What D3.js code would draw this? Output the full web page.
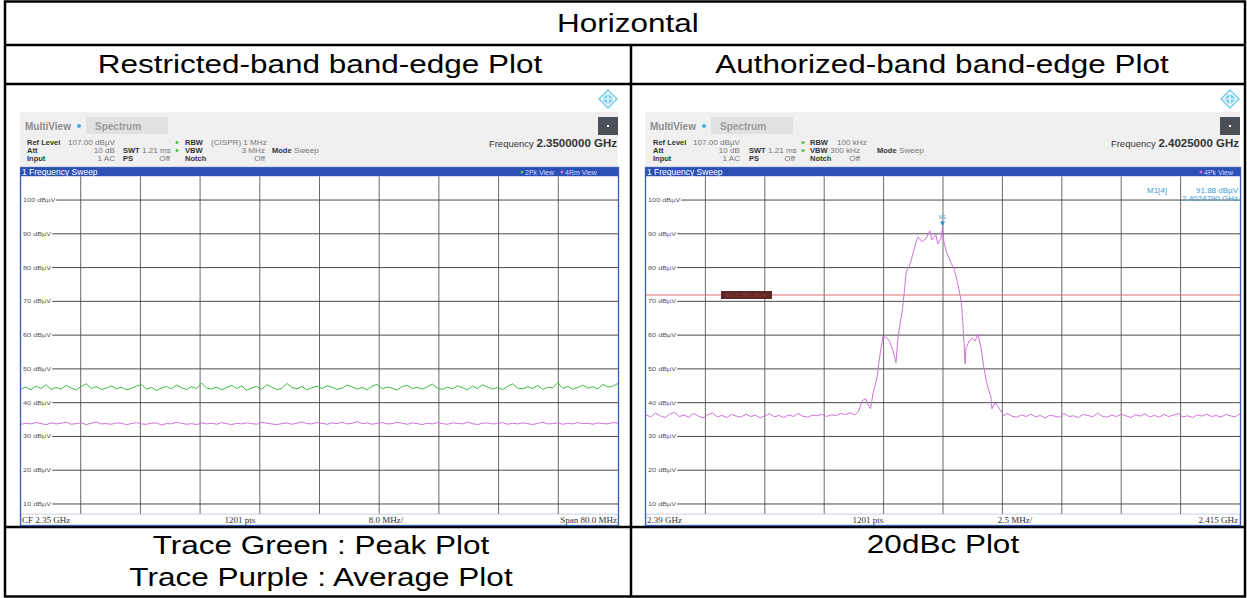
<!DOCTYPE html>
<html>
<head>
<meta charset="utf-8">
<script src="https://cdn.jsdelivr.net/npm/d3@7"></script>
<style>
  html, body { margin: 0; padding: 0; background: #fff; }
  svg { display: block; }
</style>
</head>
<body>
<svg id="chart" width="1247" height="598"></svg>
<script>
// ---------------- data ----------------
// level grid (dBµV) shown on both spectrum displays
const levelTicks = [100, 90, 80, 70, 60, 50, 40, 30, 20, 10];
const levelDomain = [7, 107];               // display bottom / reference level

// Restricted band: CF 2.35 GHz, span 80 MHz
const restrictedSpanMHz = [2310, 2390];
const restrictedPeak = [
  44.1,44.6,43.8,44.9,44.2,45.3,43.9,44.5,44.0,45.1,44.4,43.7,44.8,45.6,44.2,44.7,43.9,44.3,45.0,44.1,
  44.6,43.8,44.2,44.9,45.4,44.0,44.5,43.6,44.3,44.8,44.1,45.2,44.4,43.9,44.7,44.2,45.8,44.3,44.0,44.6,
  43.8,44.5,45.1,44.2,44.9,43.7,44.4,44.8,44.0,45.3,44.6,43.9,44.2,45.7,44.5,44.1,44.8,43.8,44.4,44.9,
  44.2,45.0,44.6,43.9,44.3,45.2,44.7,44.0,44.5,43.8,44.9,45.4,44.1,44.6,44.3,43.7,44.8,45.1,44.2,44.5,
  44.0,44.7,45.5,44.3,43.9,44.6,44.1,45.0,44.4,43.8,44.9,44.2,45.3,44.6,44.0,44.5,43.9,44.8,45.6,44.3,
  44.1,44.7,44.2,45.1,43.9,44.6,44.4,45.9,44.2,44.8,44.0,44.5,45.2,44.3,44.7,44.1,45.4,44.6,44.9,45.7
];
const restrictedAvg = [
  33.6,33.9,33.7,34.1,33.8,33.5,34.0,33.7,33.9,34.2,33.6,33.8,34.0,33.5,33.9,34.3,33.7,33.8,33.6,34.0,
  33.9,33.5,33.8,34.1,33.7,33.6,33.9,34.0,33.4,33.8,33.7,34.2,33.9,33.6,33.8,33.5,34.0,33.7,33.9,33.6,
  34.1,33.8,33.5,33.9,33.7,34.0,33.8,33.6,34.2,33.9,33.7,33.5,33.8,34.0,33.6,33.9,34.3,33.8,33.7,34.1,
  33.9,33.6,34.0,33.8,34.2,33.7,33.9,34.4,33.8,34.0,33.6,33.9,34.1,33.7,33.8,34.2,33.9,33.6,34.0,33.8,
  33.5,33.9,33.7,34.1,33.8,33.6,34.0,33.9,33.7,34.2,33.8,33.5,33.9,34.0,33.7,33.8,34.1,33.6,33.9,33.7,
  34.0,33.8,33.5,33.9,34.2,33.7,33.8,34.0,33.6,33.9,33.7,34.1,33.8,33.9,33.6,34.0,33.8,33.7,34.1,33.9
];

// Authorized band: 2.39 GHz .. 2.415 GHz, peak trace
const authorizedSpanMHz = [2390, 2415];
const floorStepMHz = 0.2;
const authFloorLowStart = 2390.0;
const authFloorLow = [
  36.4,35.8,36.9,36.1,35.6,36.6,37.1,35.9,36.3,35.7,36.8,36.0,35.5,36.4,36.9,35.8,36.2,35.6,36.5,36.0,
  35.7,36.6,35.9,36.3,35.5,36.1,36.7,35.8,36.2,35.6,36.4,35.9,36.8,36.0,35.7,36.3,36.1,36.6,35.9,36.4,
  36.2,36.8,36.5,37.0
];
const authSignalFreq = [
  2398.80,2398.95,2399.10,2399.25,2399.32,2399.45,2399.55,2399.72,2399.85,2399.98,
  2400.15,2400.25,2400.40,2400.52,2400.60,2400.78,2400.86,2400.95,2401.08,2401.20,
  2401.37,2401.45,2401.62,2401.78,2401.95,2402.03,2402.20,2402.28,2402.41,2402.479,
  2402.55,2402.68,2402.85,2402.97,2403.10,2403.27,2403.35,2403.43,2403.47,2403.60,
  2403.72,2403.85,2403.97,2404.10,2404.22,2404.35,2404.52,2404.56,2404.69,2404.85,
  2405.06,2405.20
];
const authSignalLevel = [
  36.4,37.5,40.6,41.2,39.7,38.2,42.6,47.4,54.4,59.7,
  59.1,58.2,55.3,51.8,59.1,67.0,72.0,78.8,80.3,83.2,
  87.6,89.1,87.6,88.5,90.9,88.2,89.7,87.0,88.5,91.88,
  87.0,84.0,81.2,79.4,75.9,70.0,62.0,51.5,56.2,58.2,
  59.1,58.2,60.3,56.2,50.3,45.6,41.5,38.2,40.0,38.5,
  36.2,36.8
];
const authFloorHighStart = 2405.4;
const authFloorHigh = [
  36.0,35.7,36.4,35.9,36.6,35.8,36.2,35.5,36.3,36.0,35.7,36.8,35.9,36.1,35.6,36.5,36.2,35.8,36.9,36.0,
  35.7,36.3,35.9,36.6,36.1,35.6,36.4,36.0,36.7,35.8,36.2,35.7,36.5,35.9,36.3,36.8,35.8,36.1,35.6,36.4,
  36.0,36.6,35.9,36.2,35.7,36.5,36.1,35.8,36.7
];

// marker M1 and the -20 dBc display line
const markerFreqMHz = 2402.479;
const markerLevel = 91.88;
const dBcOffset = 20;

// ---------------- drawing ----------------
const svg = d3.select('#chart');
const SANS = "'Liberation Sans', Arial, sans-serif";
const SERIF = "'Liberation Serif', 'Times New Roman', serif";
const TEXT_STRETCH = 1.26;   // the document renders its text horizontally widened

// table frame
const table = svg.append('g').attr('fill', 'none').attr('stroke', '#000').attr('stroke-width', 2.5);
table.append('rect').attr('x', 5).attr('y', 1.5).attr('width', 1240).attr('height', 595);
table.append('line').attr('x1', 5).attr('x2', 1245).attr('y1', 45).attr('y2', 45);
table.append('line').attr('x1', 5).attr('x2', 1245).attr('y1', 84).attr('y2', 84);
table.append('line').attr('x1', 5).attr('x2', 1245).attr('y1', 527).attr('y2', 527);
table.append('line').attr('x1', 631).attr('x2', 631).attr('y1', 45).attr('y2', 597);

function cellText(txt, cx, baseline) {
  svg.append('text')
    .attr('transform', `translate(${cx},${baseline}) scale(${TEXT_STRETCH},1)`)
    .attr('text-anchor', 'middle')
    .attr('font-family', SANS)
    .attr('font-size', 25)
    .attr('fill', '#000')
    .text(txt);
}
cellText('Horizontal', 628, 32);
cellText('Restricted-band band-edge Plot', 320, 73);
cellText('Authorized-band band-edge Plot', 942, 73);
cellText('Trace Green : Peak Plot', 321, 554);
cellText('Trace Purple : Average Plot', 321, 586);
cellText('20dBc Plot', 943, 553);

// widened small text used inside the analyzer screens
function wideText(parent, x, y, txt, opts) {
  const o = Object.assign({ size: 7, anchor: 'start', weight: 'normal', fill: '#555', family: SANS, sx: 1.2 }, opts || {});
  return parent.append('text')
    .attr('transform', `translate(${x},${y}) scale(${o.sx},1)`)
    .attr('text-anchor', o.anchor)
    .attr('font-family', o.family).attr('font-size', o.size)
    .attr('font-weight', o.weight).attr('fill', o.fill)
    .text(txt);
}

// one analyzer screen
function drawScreen(cfg) {
  const { x0, x1 } = cfg;
  const g = svg.append('g');
  const plotTop = 176.4, plotBottom = 514.1;

  // R&S logo
  const lx = x1 - 10, ly = 99, r = 10;
  g.append('path')
    .attr('d', `M${lx},${ly - r}L${lx + r},${ly}L${lx},${ly + r}L${lx - r},${ly}Z`)
    .attr('fill', '#79cdee');
  g.append('path')
    .attr('d', `M${lx},${ly - r + 3}L${lx + r - 3},${ly}L${lx},${ly + r - 3}L${lx - r + 3},${ly}Z M${lx - r + 3},${ly}L${lx + r - 3},${ly} M${lx},${ly - r + 3}L${lx},${ly + r - 3}`)
    .attr('fill', 'none').attr('stroke', '#fff').attr('stroke-width', 1.2);

  // header band
  g.append('rect').attr('x', x0 - 1).attr('y', 112).attr('width', x1 - x0 + 1).attr('height', 56).attr('fill', '#f0f0f0');
  g.append('rect').attr('x', x0 + 65).attr('y', 117).attr('width', 82).attr('height', 17).attr('fill', '#e1e1e1');
  g.append('text').attr('x', x0 + 4).attr('y', 130).attr('font-family', SANS).attr('font-size', 10)
    .attr('font-weight', 'bold').attr('fill', '#8c8c8c').text('MultiView');
  g.append('circle').attr('cx', x0 + 58).attr('cy', 126).attr('r', 2).attr('fill', '#3fb3e6');
  g.append('text').attr('x', x0 + 74).attr('y', 130).attr('font-family', SANS).attr('font-size', 10)
    .attr('font-weight', 'bold').attr('fill', '#9b9b9b').text('Spectrum');
  g.append('rect').attr('x', x1 - 20).attr('y', 117).attr('width', 20).attr('height', 18).attr('fill', '#4a5056');
  g.append('rect').attr('x', x1 - 11).attr('y', 125).attr('width', 2).attr('height', 2).attr('fill', '#fff');

  // settings block: bold labels plain, values slightly widened
  const rows = [145, 153, 161];
  cfg.settings.forEach(s => {
    if (s.dot) {
      g.append('circle').attr('cx', x0 + s.x).attr('cy', rows[s.row] - 2.5).attr('r', 1.6).attr('fill', '#5cc05c');
      return;
    }
    wideText(g, x0 + s.x, rows[s.row], s.t, {
      size: 7.5, anchor: s.end ? 'end' : 'start',
      weight: s.bold ? 'bold' : 'normal', fill: s.bold ? '#333' : '#777', sx: s.bold ? 1 : 1.08
    });
  });
  const ft = g.append('text').attr('x', x1 - 1).attr('y', 147).attr('text-anchor', 'end')
    .attr('font-family', SANS).attr('fill', '#333');
  ft.append('tspan').attr('font-size', 9.5).text('Frequency ');
  ft.append('tspan').attr('font-size', 11.5).attr('font-weight', 'bold').text(cfg.freqLabel);

  // title bar
  g.append('rect').attr('x', x0 - 1).attr('y', 167.5).attr('width', x1 - x0 + 1).attr('height', 9).attr('fill', '#2c4fb5');
  g.append('text').attr('x', x0 + 1).attr('y', 175).attr('font-family', SANS).attr('font-size', 8.5)
    .attr('fill', '#fff').text('1 Frequency Sweep');
  cfg.views.forEach(v => {
    g.append('circle').attr('cx', v.x).attr('cy', 172).attr('r', 1.5).attr('fill', v.color);
    g.append('text').attr('x', v.x + 3).attr('y', 174.5).attr('font-family', SANS).attr('font-size', 7)
      .attr('fill', '#c9d6ff').text(v.t);
  });

  // scales
  const x = d3.scaleLinear().domain(cfg.span).range([x0, x1]);
  const y = d3.scaleLinear().domain(levelDomain).range([plotBottom, plotTop]);

  // plot background
  g.append('rect').attr('x', x0).attr('y', plotTop).attr('width', x1 - x0).attr('height', plotBottom - plotTop).attr('fill', '#fff');

  // vertical grid
  const step = (cfg.span[1] - cfg.span[0]) / 10;
  const vTicks = d3.range(1, 10).map(i => cfg.span[0] + i * step);
  g.selectAll(null).data(vTicks).join('line')
    .attr('x1', d => x(d)).attr('x2', d => x(d))
    .attr('y1', plotTop).attr('y2', plotBottom)
    .attr('stroke', '#6a6a6a').attr('stroke-width', 1);

  // level labels + horizontal grid
  levelTicks.forEach(v => {
    const t = wideText(g, x0 + 2, y(v) + 2, v + ' dBµV', { size: 6, fill: '#555', sx: 1.22 });
    const w = t.node().getComputedTextLength() * 1.22;
    g.append('line').attr('x1', x0 + 3 + w).attr('x2', x1).attr('y1', y(v)).attr('y2', y(v))
      .attr('stroke', '#4a4a4a').attr('stroke-width', 1);
  });

  // bottom info bar
  g.append('rect').attr('x', x0).attr('y', plotBottom).attr('width', x1 - x0).attr('height', 11.5)
    .attr('fill', '#fff').attr('stroke', '#b9c4dc').attr('stroke-width', 0.8);
  cfg.footer.forEach(f => {
    g.append('text').attr('x', f.x).attr('y', 523).attr('text-anchor', f.anchor)
      .attr('font-family', SERIF).attr('font-size', 9).attr('fill', '#333').text(f.t);
  });

  // screen frame
  g.append('rect').attr('x', x0 - 0.5).attr('y', 167.5).attr('width', x1 - x0 + 1).attr('height', 358)
    .attr('fill', 'none').attr('stroke', '#3a5bb8').attr('stroke-width', 1.3);

  return { g, x, y };
}

const lineGen = (x, y) => d3.line().x(d => x(d.f)).y(d => y(d.v));

// ----- restricted band screen -----
const left = drawScreen({
  x0: 21, x1: 618,
  span: restrictedSpanMHz,
  freqLabel: '2.3500000 GHz',
  settings: [
    { row: 0, x: 6, t: 'Ref Level', bold: true }, { row: 0, x: 47, t: '107.00 dBµV' },
    { row: 0, x: 156, dot: true }, { row: 0, x: 164, t: 'RBW', bold: true }, { row: 0, x: 190, t: '(CISPR) 1 MHz' },
    { row: 1, x: 6, t: 'Att', bold: true }, { row: 1, x: 94, t: '10 dB', end: true },
    { row: 1, x: 102, t: 'SWT', bold: true }, { row: 1, x: 121, t: '1.21 ms' },
    { row: 1, x: 156, dot: true }, { row: 1, x: 164, t: 'VBW', bold: true },
    { row: 1, x: 244, t: '3 MHz', end: true }, { row: 1, x: 251, t: 'Mode', bold: true }, { row: 1, x: 273, t: 'Sweep' },
    { row: 2, x: 6, t: 'Input', bold: true }, { row: 2, x: 94, t: '1 AC', end: true },
    { row: 2, x: 102, t: 'PS', bold: true }, { row: 2, x: 149, t: 'Off', end: true },
    { row: 2, x: 164, t: 'Notch', bold: true }, { row: 2, x: 244, t: 'Off', end: true }
  ],
  views: [
    { x: 522, t: '2Pk View', color: '#52d152' },
    { x: 562, t: '4Rm View', color: '#e070e0' }
  ],
  footer: [
    { x: 22, t: 'CF 2.35 GHz', anchor: 'start' },
    { x: 240, t: '1201 pts', anchor: 'middle' },
    { x: 386, t: '8.0 MHz/', anchor: 'middle' },
    { x: 617, t: 'Span 80.0 MHz', anchor: 'end' }
  ]
});

const restrictedStep = (restrictedSpanMHz[1] - restrictedSpanMHz[0]) / (restrictedPeak.length - 1);
const peakPts = restrictedPeak.map((v, i) => ({ f: restrictedSpanMHz[0] + i * restrictedStep, v }));
const avgPts = restrictedAvg.map((v, i) => ({ f: restrictedSpanMHz[0] + i * restrictedStep, v }));
left.g.append('path').datum(peakPts).attr('d', lineGen(left.x, left.y))
  .attr('fill', 'none').attr('stroke', '#3dbb3d').attr('stroke-width', 1);
left.g.append('path').datum(avgPts).attr('d', lineGen(left.x, left.y))
  .attr('fill', 'none').attr('stroke', '#cf72d9').attr('stroke-width', 1);

// ----- authorized band screen -----
const right = drawScreen({
  x0: 646, x1: 1240,
  span: authorizedSpanMHz,
  freqLabel: '2.4025000 GHz',
  settings: [
    { row: 0, x: 7, t: 'Ref Level', bold: true }, { row: 0, x: 47, t: '107.00 dBµV' },
    { row: 0, x: 157, dot: true }, { row: 0, x: 164, t: 'RBW', bold: true }, { row: 0, x: 191, t: '100 kHz' },
    { row: 1, x: 7, t: 'Att', bold: true }, { row: 1, x: 94, t: '10 dB', end: true },
    { row: 1, x: 103, t: 'SWT', bold: true }, { row: 1, x: 122, t: '1.21 ms' },
    { row: 1, x: 157, dot: true }, { row: 1, x: 164, t: 'VBW', bold: true },
    { row: 1, x: 214, t: '300 kHz', end: true }, { row: 1, x: 231, t: 'Mode', bold: true }, { row: 1, x: 253, t: 'Sweep' },
    { row: 2, x: 7, t: 'Input', bold: true }, { row: 2, x: 94, t: '1 AC', end: true },
    { row: 2, x: 103, t: 'PS', bold: true }, { row: 2, x: 149, t: 'Off', end: true },
    { row: 2, x: 164, t: 'Notch', bold: true }, { row: 2, x: 214, t: 'Off', end: true }
  ],
  views: [
    { x: 1201, t: '4Pk View', color: '#e070e0' }
  ],
  footer: [
    { x: 647, t: '2.39 GHz', anchor: 'start' },
    { x: 868, t: '1201 pts', anchor: 'middle' },
    { x: 1015, t: '2.5 MHz/', anchor: 'middle' },
    { x: 1238, t: '2.415 GHz', anchor: 'end' }
  ]
});

// display line at marker level - 20 dB
const limitLevel = markerLevel - dBcOffset;
right.g.append('line')
  .attr('x1', right.x.range()[0]).attr('x2', right.x.range()[1])
  .attr('y1', right.y(limitLevel)).attr('y2', right.y(limitLevel))
  .attr('stroke', '#e27070').attr('stroke-width', 1);
right.g.append('rect').attr('x', 721).attr('y', right.y(limitLevel) - 4).attr('width', 51).attr('height', 8)
  .attr('fill', '#5c2727');
right.g.append('text').attr('x', 746).attr('y', right.y(limitLevel) + 2).attr('text-anchor', 'middle')
  .attr('font-family', SANS).attr('font-size', 5.5).attr('fill', '#9a3a3a')
  .text('D1 ' + limitLevel.toFixed(3) + ' dBµV');

// trace
const authPts = [
  ...authFloorLow.map((v, i) => ({ f: authFloorLowStart + i * floorStepMHz, v })),
  ...authSignalFreq.map((f, i) => ({ f, v: authSignalLevel[i] })),
  ...authFloorHigh.map((v, i) => ({ f: authFloorHighStart + i * floorStepMHz, v }))
];
right.g.append('path').datum(authPts).attr('d', lineGen(right.x, right.y))
  .attr('fill', 'none').attr('stroke', '#cf72d9').attr('stroke-width', 1);

// marker M1
const mx = right.x(markerFreqMHz), my = right.y(markerLevel);
right.g.append('path').attr('d', `M${mx - 2.5},${my - 6}L${mx + 2.5},${my - 6}L${mx},${my - 1}Z`).attr('fill', '#2f8fd6');
right.g.append('text').attr('x', mx).attr('y', my - 8).attr('text-anchor', 'middle')
  .attr('font-family', SANS).attr('font-size', 5).attr('fill', '#3a9ad8').text('M1');

// marker table
const mInfo = right.g.append('g').attr('font-family', SANS).attr('fill', '#3a9ad8').attr('font-size', 8);
mInfo.append('text').attr('x', 1147).attr('y', 193).text('M1[4]');
mInfo.append('text').attr('x', 1238).attr('y', 193).attr('text-anchor', 'end').text(markerLevel.toFixed(2) + ' dBµV');
mInfo.append('text').attr('x', 1238).attr('y', 201).attr('text-anchor', 'end').text((markerFreqMHz / 1000).toFixed(7) + ' GHz');
</script>
</body>
</html>
